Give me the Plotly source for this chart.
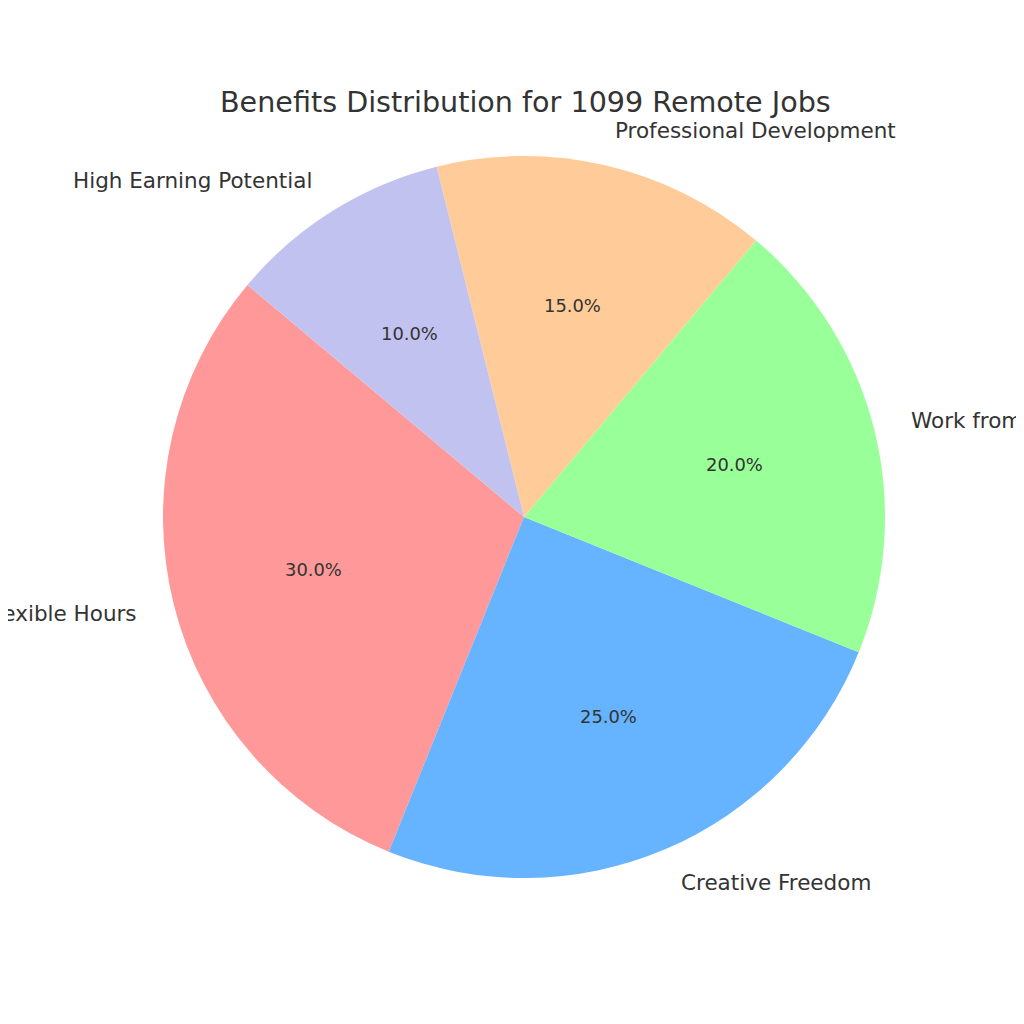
import math
import plotly.graph_objects as go

labels = ["Flexible Hours", "Creative Freedom", "Work from Home",
          "Professional Development", "High Earning Potential"]
values = [30, 25, 20, 15, 10]
colors = ["#ff9999", "#66b3ff", "#99ff99", "#ffcc99", "#c2c2f0"]
title = "Benefits Distribution for 1099 Remote Jobs"

W = H = 1024
OFF = 8                     # page body margin offset in browser
cx = 524 - OFF              # pie centre in pixels (from left)
cy_top = 517 - OFF          # pie centre in pixels (from top)
R = 361                     # pie radius in pixels
start_angle = 140           # degrees, counterclockwise from 3 o'clock
text_color = "#333333"
font_family = "DejaVu Sans, Verdana, sans-serif"

cy = H - cy_top  # from bottom
total = sum(values)

# plotly: for counterclockwise, the first slice spans [rotation, rotation+span] clockwise from top
rotation = 90 - start_angle - 360 * values[0] / total

fig = go.Figure(go.Pie(
    labels=labels, values=values, sort=False,
    direction="counterclockwise", rotation=rotation,
    marker=dict(colors=colors, line=dict(width=0)),
    textinfo="none", hoverinfo="label+percent",
    domain=dict(x=[(cx - R) / W, (cx + R) / W], y=[(cy - R) / H, (cy + R) / H]),
    showlegend=False,
))

ann = []
theta = start_angle
for lab, v in zip(labels, values):
    span = 360 * v / total
    mid = math.radians(theta + span / 2)
    theta += span
    c, s = math.cos(mid), math.sin(mid)
    lx = cx + 1.1 * R * c
    ly = cy + 1.1 * R * s
    ann.append(dict(x=lx / W, y=ly / H, xref="paper", yref="paper",
                    text=lab, showarrow=False,
                    xanchor="left" if c > 0 else "right", yanchor="middle",
                    font=dict(size=21.5, color=text_color, family=font_family)))
    px = cx + 0.6 * R * c
    py = cy + 0.6 * R * s
    ann.append(dict(x=px / W, y=py / H, xref="paper", yref="paper",
                    text=f"{100 * v / total:.1f}%", showarrow=False,
                    xanchor="center", yanchor="middle",
                    font=dict(size=17.9, color=text_color, family=font_family)))

ann.append(dict(x=(525 - OFF) / W, y=(H - (102 - OFF)) / H, xref="paper", yref="paper",
                text=title, showarrow=False, xanchor="center", yanchor="middle",
                font=dict(size=28.6, color=text_color, family=font_family)))

fig.update_layout(width=W, height=H, margin=dict(l=0, r=0, t=0, b=0),
                  paper_bgcolor="white", plot_bgcolor="white",
                  annotations=ann)

fig.write_html("out.html")
